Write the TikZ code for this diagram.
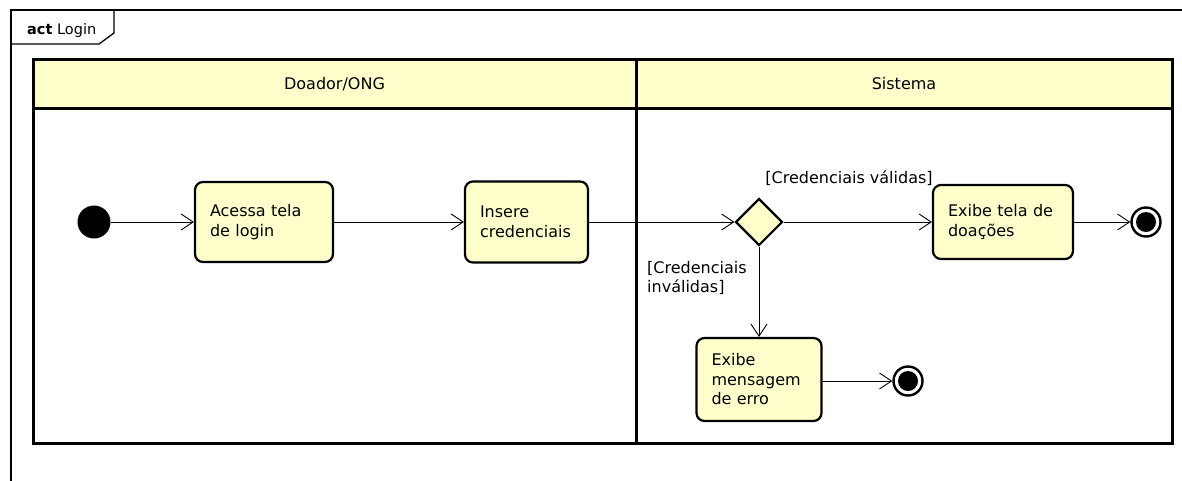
\documentclass[tikz,border=0pt]{standalone}
\usepackage{fontspec}
\setmainfont{DejaVu Sans}
\usetikzlibrary{arrows.meta,shapes.geometric}
\definecolor{umlfill}{RGB}{255,255,204}
\begin{document}
\begin{tikzpicture}[x=1pt,y=-1pt,
  txt/.style={font=\fontsize{16}{19.5}\selectfont},
  action/.style={txt, draw=black, line width=2.2pt, rounded corners=8pt,
    fill=umlfill, align=left, inner xsep=15pt, inner ysep=0pt},
  decision/.style={diamond, draw=black, line width=2.2pt, fill=umlfill,
    minimum width=47pt, minimum height=47pt, inner sep=0pt},
  initial/.style={circle, fill=black, minimum size=33pt, inner sep=0pt},
  final/.style={circle, draw=black, line width=2.4pt, fill=white,
    minimum size=29pt, inner sep=0pt,
    path picture={\fill[black] (path picture bounding box.center) circle (10pt);}},
  flow/.style={line width=0.9pt,
    -{Straight Barb[length=12pt,width=16pt,line width=0.9pt]}},
  lane/.style={draw=black, line width=3pt},
  guard/.style={txt, inner sep=0pt}
]
\useasboundingbox (0,0) rectangle (1182,480);

% diagram frame with its name tab
\begin{scope}
  \clip (0,0) rectangle (1182,480);
  \draw[line width=1.3pt] (11,10) rectangle (1200,500);
\end{scope}
\draw[line width=1.3pt] (11,44) -- (99,44) -- (114,33) -- (114,10);
\node[anchor=base west, inner sep=0pt, font=\fontsize{14.5}{17}\selectfont]
  (frametitle) at (27,34) {\textbf{act} Login};

% swimlanes
\fill[umlfill] (33,59) rectangle (1172,108);
\draw[lane] (33,59) rectangle (1172,443);
\draw[lane] (33,108) -- (1172,108);
\draw[lane] (636,59) -- (636,443);
\node[txt] (lane1) at (334.5,84) {Doador/ONG};
\node[txt] (lane2) at (904,84) {Sistema};

% activity nodes
\node[initial] (init) at (94,222) {};
\node[action, text width=108pt, minimum height=80pt] (acessa) at (264,222)
  {Acessa tela\\de login};
\node[action, text width=93pt, minimum height=81pt] (insere) at (526.5,222)
  {Insere\\credenciais};
\node[decision] (dec) at (759,222) {};
\node[action, text width=110pt, minimum height=74pt] (exibe) at (1003,222)
  {Exibe tela de\\doações};
\node[final] (fin1) at (1146,222) {};
\node[action, text width=95pt, minimum height=83pt] (erro) at (759,379.5)
  {Exibe\\mensagem\\de erro};
\node[final] (fin2) at (908,381) {};

% control flows
\draw[flow] (init) -- (acessa);
\draw[flow] (acessa) -- (insere);
\draw[flow] (insere) -- (dec);
\draw[flow] (dec) -- (exibe);
\draw[flow] (exibe) -- (fin1);
\draw[flow] (dec) -- (erro);
\draw[flow] (erro.east |- fin2) -- (fin2);

% guards
\node[guard, anchor=base] (gvalid) at (849,183) {[Credenciais válidas]};
\node[guard, anchor=north west, align=left] (ginvalid) at (647,261)
  {[Credenciais\\inválidas]};
\end{tikzpicture}
\end{document}
